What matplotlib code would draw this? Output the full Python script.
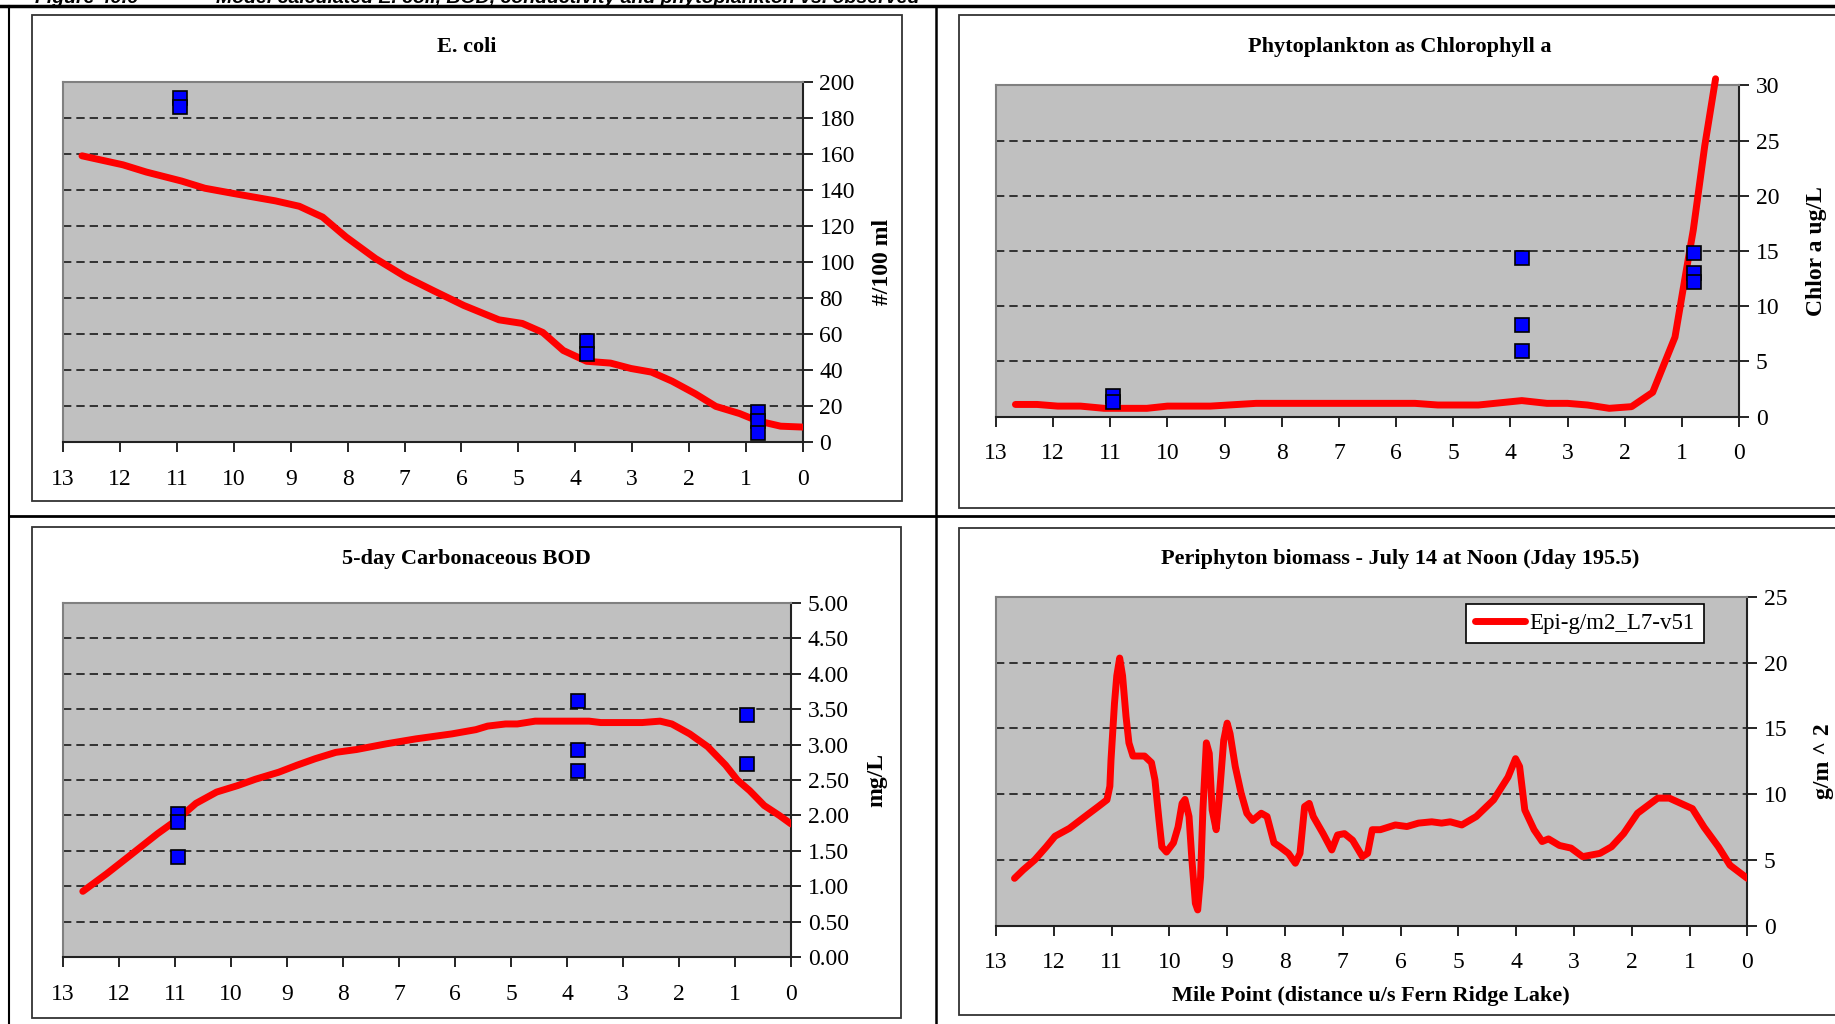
import numpy as np
import matplotlib.pyplot as plt
from matplotlib.patches import Rectangle
from matplotlib.lines import Line2D

plt.rcParams['font.family'] = ['Liberation Serif', 'DejaVu Serif']

## model and observed data, x = mile point upstream of Fern Ridge Lake
ecoli_mile = [12.67, 11.95, 11.54, 10.92, 10.51, 9.99, 9.27, 8.85, 8.44, 8.03, 7.51, 6.99,
              6.48, 5.96, 5.34, 4.93, 4.57, 4.21, 3.80, 3.38, 3.02, 2.66, 2.30, 1.89, 1.53,
              1.11, 0.80, 0.39, 0.0]
ecoli_model = [159, 154, 150, 145, 141, 138, 134, 131, 125, 114, 102, 92, 84, 76, 68, 66,
               61, 51, 45, 44, 41, 39, 34, 27, 20, 16, 12, 9, 8.5]
ecoli_obs_mile = [10.95, 10.95, 3.8, 3.8, 0.78, 0.78, 0.78]
ecoli_obs = [191, 186, 56, 49, 17, 12, 5]

phyto_mile = [12.66, 12.28, 11.92, 11.52, 11.11, 10.72, 10.36, 10.0, 9.25, 8.45, 7.08, 5.67,
              5.27, 4.56, 3.80, 3.36, 3.0, 2.65, 2.27, 1.88, 1.51, 1.12, 0.93, 0.80, 0.60, 0.41]
phyto_model = [1.1, 1.1, 0.95, 0.95, 0.75, 0.75, 0.75, 0.95, 0.95, 1.2, 1.2, 1.2, 1.05, 1.05,
               1.45, 1.2, 1.2, 1.05, 0.75, 0.9, 2.2, 7.2, 13.0, 16.9, 24.5, 30.6]
phyto_obs_mile = [10.95, 10.95, 3.8, 3.8, 3.8, 0.78, 0.78, 0.78]
phyto_obs = [1.9, 1.3, 14.4, 8.3, 5.9, 14.85, 13.0, 12.2]

bod_mile = [12.65, 12.22, 11.80, 11.32, 10.95, 10.63, 10.26, 9.89, 9.57, 9.15, 8.82, 8.5,
            8.13, 7.76, 7.23, 6.70, 6.06, 5.63, 5.42, 5.10, 4.89, 4.57, 3.61, 3.40, 2.66,
            2.34, 2.13, 1.81, 1.49, 1.17, 0.96, 0.74, 0.48, 0.21, 0.0]
bod_model = [0.93, 1.18, 1.44, 1.74, 1.95, 2.17, 2.33, 2.42, 2.51, 2.61, 2.71, 2.80, 2.89,
             2.93, 3.01, 3.08, 3.15, 3.21, 3.26, 3.29, 3.29, 3.33, 3.33, 3.31, 3.31, 3.33,
             3.29, 3.15, 2.97, 2.71, 2.50, 2.35, 2.14, 2.0, 1.88]
bod_obs_mile = [10.95, 10.95, 10.95, 3.8, 3.8, 3.8, 0.78, 0.78]
bod_obs = [2.02, 1.91, 1.41, 3.61, 2.92, 2.62, 3.41, 2.72]

peri_mile = [12.68, 12.53, 12.33, 12.13, 11.98, 11.73, 11.43, 11.23, 11.08, 11.03, 11.01,
             10.95, 10.91, 10.86, 10.81, 10.75, 10.70, 10.63, 10.43, 10.31, 10.25, 10.18,
             10.13, 10.05, 9.93, 9.85, 9.78, 9.73, 9.66, 9.61, 9.55, 9.51, 9.46, 9.42, 9.36,
             9.31, 9.26, 9.19, 9.14, 9.06, 9.0, 8.95, 8.86, 8.76, 8.66, 8.56, 8.41, 8.31,
             8.19, 8.09, 7.94, 7.82, 7.74, 7.66, 7.58, 7.51, 7.34, 7.19, 7.09, 6.97, 6.83,
             6.66, 6.57, 6.49, 6.35, 6.09, 5.89, 5.69, 5.46, 5.29, 5.14, 4.94, 4.69, 4.39,
             4.14, 4.01, 3.94, 3.85, 3.69, 3.55, 3.44, 3.25, 3.05, 2.85, 2.55, 2.35, 2.14,
             1.90, 1.55, 1.35, 0.95, 0.75, 0.50, 0.30, 0.0]
peri_model = [3.6, 4.24, 5.0, 6.0, 6.8, 7.4, 8.4, 9.06, 9.57, 10.6, 12.6, 16.9, 19.0, 20.35,
              19.0, 15.9, 13.9, 12.9, 12.9, 12.4, 11.1, 8.05, 6.0, 5.6, 6.3, 7.5, 9.3, 9.6,
              8.3, 5.0, 1.7, 1.2, 3.7, 8.8, 13.9, 13.1, 8.8, 7.3, 9.6, 14.1, 15.4, 14.6, 12.1,
              10.1, 8.55, 8.0, 8.55, 8.3, 6.3, 6.0, 5.5, 4.75, 5.5, 9.06, 9.3, 8.3, 7.0, 5.76,
              6.9, 7.0, 6.5, 5.25, 5.5, 7.3, 7.3, 7.66, 7.54, 7.8, 7.9, 7.8, 7.9, 7.66, 8.3,
              9.57, 11.3, 12.7, 12.1, 8.8, 7.3, 6.4, 6.6, 6.1, 5.9, 5.25, 5.5, 6.0, 7.0, 8.55,
              9.7, 9.7, 8.9, 7.5, 6.0, 4.6, 3.6]

W, H = 1835, 1024
fig = plt.figure(figsize=(W / 100, H / 100), dpi=100)


def px_box(x0, x1, y0, y1):
    # pixel box (top-left origin) -> figure fraction [l, b, w, h]
    return [x0 / W, 1 - y1 / H, (x1 - x0) / W, (y1 - y0) / H]


## white chart boxes
for x0, x1, y0, y1 in [(31.6, 902, 15.2, 501), (959, 1840, 15.2, 508),
                       (31.6, 901, 527, 1018), (959, 1840, 528, 1015)]:
    l, b, w, h = px_box(x0, x1, y0, y1)
    fig.add_artist(Rectangle((l, b), w, h, transform=fig.transFigure, facecolor='white',
                             edgecolor='#333333', lw=1.3, zorder=0))

## table lines
fig.add_artist(Line2D([0, 1], [1 - 6 / H, 1 - 6 / H], color='black', lw=2.5))
fig.add_artist(Line2D([9 / W, 1], [1 - 516 / H, 1 - 516 / H], color='black', lw=2.0))
fig.add_artist(Line2D([936 / W, 936 / W], [0, 1 - 6 / H], color='black', lw=1.8))
fig.add_artist(Line2D([9 / W, 9 / W], [0, 1 - 6 / H], color='black', lw=1.5))

## caption, cut at the top edge as in the source page
fig.text(35 / W, 1 - 3 / H, "Figure 49.6", fontsize=14, weight='bold', style='italic',
         family='Liberation Sans', va='baseline')
fig.text(216 / W, 1 - 3 / H,
         "Model calculated E. coli, BOD, conductivity and phytoplankton vs. observed",
         fontsize=14, weight='bold', style='italic', family='Liberation Sans', va='baseline')


def make_ax(box, ymax, ystep, fmt, title, ylabel, ylab_x, title_x, title_y):
    ax = fig.add_axes(px_box(*box))
    ax.set_facecolor('#C0C0C0')
    ax.set_xlim(13, 0)
    ax.set_ylim(0, ymax)
    ax.yaxis.tick_right()
    ax.yaxis.set_label_position('right')
    ax.set_xticks(range(13, -1, -1))
    yt = np.arange(0, ymax + ystep / 2, ystep)
    ax.set_yticks(yt)
    ax.set_yticklabels([fmt.format(v) for v in yt])
    for v in yt[1:-1]:
        ax.axhline(v, color='#1a1a1a', lw=1.2, ls=(0, (5, 3)), zorder=1)
    for s in ['top', 'left']:
        ax.spines[s].set_color('#808080')
        ax.spines[s].set_linewidth(1.5)
    for s in ['bottom', 'right']:
        ax.spines[s].set_color('#222222')
        ax.spines[s].set_linewidth(1.5)
    ax.tick_params(axis='x', direction='out', length=7, width=1.2, labelsize=17, pad=12)
    ax.tick_params(axis='y', direction='out', length=7, width=1.2, labelsize=17, pad=5)
    ax.set_ylabel(ylabel, fontsize=17, weight='bold', rotation=90)
    x0, x1 = box[0], box[1]
    ax.yaxis.set_label_coords((ylab_x - x0) / (x1 - x0), 0.5)
    fig.text(title_x / W, 1 - title_y / H, title, fontsize=16, weight='bold',
             ha='center', va='center')
    return ax


mk = dict(ls='none', marker='s', ms=10, mfc='#0000FF', mec='black', mew=1.2, zorder=4)
lk = dict(color='#FF0000', lw=5, solid_capstyle='round', zorder=3)

ax1 = make_ax((63.2, 802.8, 81.9, 442.4), 200, 20, '{:.0f}', 'E. coli', '#/100 ml',
              872, 467, 47)
ax1.plot(ecoli_mile, ecoli_model, **lk)
ax1.plot(ecoli_obs_mile, ecoli_obs, clip_on=False, **mk)

ax2 = make_ax((996, 1739, 85.4, 416.6), 30, 5, '{:.0f}', 'Phytoplankton as Chlorophyll a',
              'Chlor a ug/L', 1806, 1400, 47)
ax2.plot(phyto_mile, phyto_model, clip_on=False, **lk)
ax2.plot(phyto_obs_mile, phyto_obs, **mk)

ax3 = make_ax((63.2, 791.1, 602.7, 957.3), 5, 0.5, '{:.2f}', '5-day Carbonaceous BOD',
              'mg/L', 866, 466, 559)
ax3.plot(bod_mile, bod_model, **lk)
ax3.plot(bod_obs_mile, bod_obs, **mk)

ax4 = make_ax((996, 1747.3, 596.9, 925.7), 25, 5, '{:.0f}',
              'Periphyton biomass - July 14 at Noon (Jday 195.5)', 'g/m ^ 2', 1813, 1400, 559)
ax4.plot(peri_mile, peri_model, label='Epi-g/m2_L7-v51', **lk)
fig.text(1371 / W, 1 - 996 / H, 'Mile Point (distance u/s Fern Ridge Lake)', fontsize=16,
         weight='bold', ha='center', va='center')
leg = ax4.legend(loc='upper right', bbox_to_anchor=(1704 / W, 1 - 604 / H),
                 bbox_transform=fig.transFigure, fontsize=16.5, frameon=True, fancybox=False,
                 handlelength=2.2, borderpad=0.4, handletextpad=0.2, borderaxespad=0)
leg.get_frame().set_edgecolor('black')
leg.get_frame().set_linewidth(1.2)
leg.get_frame().set_alpha(1)

fig.savefig('out.png', dpi=100)
